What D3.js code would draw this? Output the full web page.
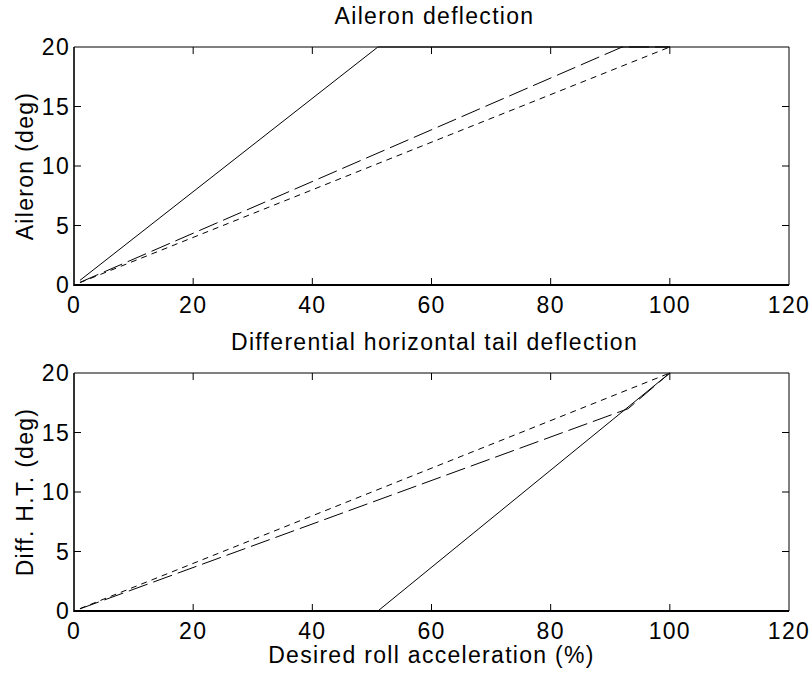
<!DOCTYPE html>
<html><head><meta charset="utf-8">
<script src="https://cdn.jsdelivr.net/npm/d3@7"></script>
<style>body{margin:0;background:#fff}svg{display:block}text{font-family:"Liberation Sans",Arial,sans-serif;fill:#000}</style>
</head><body>
<svg id="c" width="812" height="675"></svg>
<script>
// ---- data ----
const xTicks = [0, 20, 40, 60, 80, 100, 120];
const yTicks = [0, 5, 10, 15, 20];
// top panel: aileron deflection (deg) vs desired roll acceleration (%)
const topSolidX = [1, 51, 100];   const topSolidY = [0.39, 20, 20];
const topLongX  = [1, 92, 100];   const topLongY  = [0.22, 20, 20];
const topShortX = [1, 100];       const topShortY = [0.2, 20];
// bottom panel: differential horizontal tail deflection (deg)
const botSolidX = [1, 51, 100];   const botSolidY = [0, 0, 20];
const botLongX  = [1, 93, 100];   const botLongY  = [0.18, 17, 20];
const botShortX = [1, 100];       const botShortY = [0.2, 20];

const svg = d3.select("#c");
const L = 74, R = 789;
const FS = 23, LS = 1.3;
const x = d3.scaleLinear().domain([0, 120]).range([L, R]);

function panel(top, bottom, title, ylabel, series, xlabel) {
  const y = d3.scaleLinear().domain([0, 20]).range([bottom, top]);
  const g = svg.append("g");
  // lines first (box drawn over)
  const line = d3.line().x(d => x(d[0])).y(d => y(d[1]));
  series.forEach(s => {
    const pts = s.xs.map((v, i) => [v, s.ys[i]]);
    g.append("path").attr("d", line(pts)).attr("fill", "none").attr("stroke", "#000")
      .attr("stroke-width", 1).attr("stroke-dasharray", s.dash);
  });
  // box
  g.append("line").attr("x1", L).attr("x2", R).attr("y1", top).attr("y2", top).attr("stroke", "#000");
  g.append("line").attr("x1", R).attr("x2", R).attr("y1", top).attr("y2", bottom).attr("stroke", "#000");
  g.append("line").attr("x1", L).attr("x2", R).attr("y1", bottom).attr("y2", bottom).attr("stroke", "#000").attr("stroke-width", 2);
  g.append("line").attr("x1", L).attr("x2", L).attr("y1", top).attr("y2", bottom + 1).attr("stroke", "#000").attr("stroke-width", 1.6);
  const tl = 7;
  xTicks.filter(d => d > 0 && d < 120).forEach(d => {
    g.append("line").attr("x1", x(d)).attr("x2", x(d)).attr("y1", bottom).attr("y2", bottom - tl).attr("stroke", "#000");
    g.append("line").attr("x1", x(d)).attr("x2", x(d)).attr("y1", top).attr("y2", top + tl).attr("stroke", "#000");
  });
  yTicks.filter(d => d > 0 && d < 20).forEach(d => {
    g.append("line").attr("x1", L).attr("x2", L + tl).attr("y1", y(d)).attr("y2", y(d)).attr("stroke", "#000");
    g.append("line").attr("x1", R).attr("x2", R - tl).attr("y1", y(d)).attr("y2", y(d)).attr("stroke", "#000");
  });
  // tick labels
  g.selectAll(".xl").data(xTicks).enter().append("text")
    .attr("x", d => x(d)).attr("y", bottom + 28).attr("text-anchor", "middle")
    .attr("font-size", FS).attr("letter-spacing", LS).text(d => d);
  g.selectAll(".yl").data(yTicks).enter().append("text")
    .attr("x", L - 4).attr("y", d => y(d) + 8).attr("text-anchor", "end")
    .attr("font-size", FS).attr("letter-spacing", LS).text(d => d);
  // title
  g.append("text").attr("x", (L + R) / 2 + 3).attr("y", top - 23).attr("text-anchor", "middle")
    .attr("font-size", FS).attr("letter-spacing", LS).text(title);
  // y label
  g.append("text").attr("transform", `translate(33,${(top + bottom) / 2}) rotate(-90)`)
    .attr("text-anchor", "middle").attr("font-size", FS).attr("letter-spacing", LS).text(ylabel);
  if (xlabel) {
    g.append("text").attr("x", (L + R) / 2).attr("y", bottom + 52).attr("text-anchor", "middle")
      .attr("font-size", FS).attr("letter-spacing", LS).text(xlabel);
  }
}

panel(47, 285, "Aileron deflection", "Aileron (deg)", [
  {xs: topSolidX, ys: topSolidY, dash: null},
  {xs: topLongX, ys: topLongY, dash: "20,6"},
  {xs: topShortX, ys: topShortY, dash: "6,5"}
]);
panel(373, 611, "Differential horizontal tail deflection", "Diff. H.T. (deg)", [
  {xs: botSolidX, ys: botSolidY, dash: null},
  {xs: botLongX, ys: botLongY, dash: "20,6"},
  {xs: botShortX, ys: botShortY, dash: "6,5"}
], "Desired roll acceleration (%)");
</script>
</body></html>
